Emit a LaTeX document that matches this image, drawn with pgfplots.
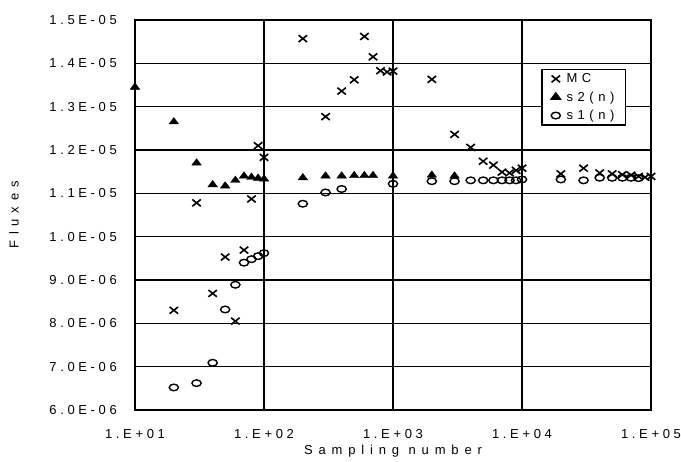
\documentclass[border=0pt]{standalone}
\usepackage{fontspec}
\setmainfont{Liberation Sans}[LetterSpace=35]
\usepackage{pgfplots}
\pgfplotsset{compat=1.18}
\newcommand{\lbl}{\fontsize{13bp}{15bp}\selectfont}
\begin{document}
\begin{tikzpicture}
\begin{axis}[
    scale only axis,
    width=516bp, height=390bp,
    xmode=log, xmin=10, xmax=100000,
    ymin=6e-6, ymax=1.5e-5,
    scaled y ticks=false,
    xtick={10,100,1000,10000,100000},
    xticklabels={1.E+01,1.E+02,1.E+03,1.E+04,1.E+05},
    ytick={6e-6,7e-6,8e-6,9e-6,1e-5,1.1e-5,1.2e-5,1.3e-5,1.4e-5,1.5e-5},
    yticklabels={6.0E-06,7.0E-06,8.0E-06,9.0E-06,1.0E-05,1.1E-05,1.2E-05,1.3E-05,1.4E-05,1.5E-05},
    xminorticks=false,
    major tick length=0pt,
    grid=major,
    major grid style={draw=black, line width=1.3bp},
    axis line style={line width=2bp},
    tick label style={font=\lbl\addfontfeature{LetterSpace=28}},
    xticklabel style={anchor=north, inner sep=0pt, yshift=-19bp},
    yticklabel style={anchor=east, inner sep=0pt, xshift=-18bp},
    xlabel={Sampling number},
    ylabel={Fluxes},
    label style={font=\lbl\addfontfeature{LetterSpace=45}},
    xlabel style={at={(axis description cs:0.5,0)}, anchor=center, yshift=-41bp},
    ylabel style={at={(axis description cs:0,0.5)}, anchor=center, rotate=0, yshift=121bp},
    clip=false,
    legend style={at={(0.9516,0.8744)}, anchor=north east, draw=black,
        line width=1.3bp, font=\lbl, legend cell align=left,
        inner xsep=9bp, inner ysep=2bp, row sep=3.5bp,
        /tikz/every odd column/.append style={column sep=4bp}},
]
\addplot+[only marks, black, mark=x, mark size=6bp,
    mark options={line width=1.6bp, yscale=0.8}] coordinates {
(20,8.30e-6) (30,10.78e-6) (40,8.69e-6) (50,9.53e-6) (60,8.05e-6)
(70,9.69e-6) (80,10.87e-6) (90,12.10e-6) (100,11.83e-6)
(200,14.57e-6) (300,12.77e-6) (400,13.36e-6) (500,13.62e-6) (600,14.62e-6)
(700,14.15e-6) (800,13.83e-6) (900,13.80e-6) (1000,13.82e-6)
(2000,13.63e-6) (3000,12.36e-6) (4000,12.06e-6) (5000,11.74e-6) (6000,11.65e-6)
(7000,11.49e-6) (8000,11.47e-6) (9000,11.53e-6) (10000,11.58e-6)
(20000,11.45e-6) (30000,11.58e-6) (40000,11.47e-6) (50000,11.45e-6) (60000,11.43e-6)
(70000,11.42e-6) (80000,11.39e-6) (90000,11.37e-6) (100000,11.39e-6)
};
\addlegendentry{MC}
\addplot+[only marks, black, mark=triangle*, mark size=4.8bp,
    mark options={xscale=1.15, yscale=0.9}] coordinates {
(10,13.45e-6) (20,12.65e-6) (30,11.70e-6) (40,11.20e-6) (50,11.17e-6)
(60,11.30e-6) (70,11.40e-6) (80,11.37e-6) (90,11.35e-6) (100,11.33e-6)
(200,11.36e-6) (300,11.40e-6) (400,11.40e-6) (500,11.41e-6) (600,11.41e-6)
(700,11.41e-6) (1000,11.40e-6) (2000,11.42e-6) (3000,11.40e-6)
};
\addlegendentry{s2(n)}
\addplot+[only marks, black, mark=o, mark size=3.3bp,
    mark options={line width=1.4bp, xscale=1.4}] coordinates {
(20,6.52e-6) (30,6.62e-6) (40,7.09e-6) (50,8.32e-6) (60,8.89e-6)
(70,9.40e-6) (80,9.48e-6) (90,9.55e-6) (100,9.62e-6)
(200,10.76e-6) (300,11.02e-6) (400,11.10e-6) (1000,11.22e-6)
(2000,11.28e-6) (3000,11.28e-6) (4000,11.30e-6) (5000,11.30e-6) (6000,11.30e-6)
(7000,11.30e-6) (8000,11.30e-6) (9000,11.30e-6) (10000,11.32e-6)
(20000,11.32e-6) (30000,11.30e-6) (40000,11.36e-6) (50000,11.36e-6)
(60000,11.36e-6) (70000,11.36e-6) (80000,11.35e-6)
};
\addlegendentry{s1(n)}
\end{axis}
\pgfresetboundingbox
\path[use as bounding box] (current axis.south west) ++(-135bp,-52bp) rectangle ++(681bp,462bp);
\end{tikzpicture}
\end{document}
